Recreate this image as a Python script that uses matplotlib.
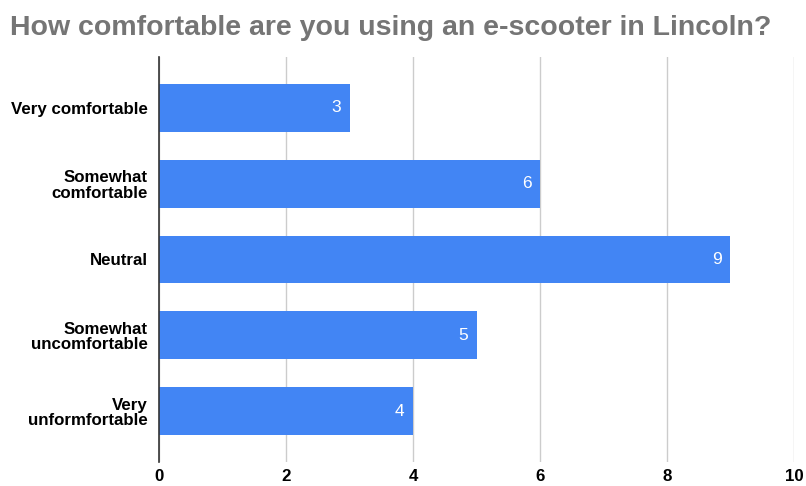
import matplotlib
matplotlib.use("Agg")
import matplotlib.pyplot as plt

categories = ["Very comfortable", "Somewhat\ncomfortable", "Neutral",
              "Somewhat\nuncomfortable", "Very\nunformfortable"]
counts = [3, 6, 9, 5, 4]
xticks = [0, 2, 4, 6, 8, 10]

plt.rcParams['font.family'] = ['Liberation Sans', 'DejaVu Sans']

fig = plt.figure(figsize=(8.06, 4.86), dpi=100)
ax = fig.add_axes([0.1973, 0.0494, 0.7878, 0.8333])

ypos = list(range(len(categories)))
bars = ax.barh(ypos, counts, height=0.63, color="#4285F4", zorder=3)
ax.set_ylim(len(categories) - 1 + 0.67, -0.67)
ax.set_xlim(0, 10)
ax.set_xticks(xticks)
ax.set_yticks(ypos)
ax.set_yticklabels(categories, fontweight="bold", fontsize=12.2, linespacing=1.05)
ax.tick_params(axis="x", labelsize=12.2, length=0, pad=5)
ax.tick_params(axis="y", length=0, pad=8)
for lbl in ax.get_xticklabels():
    lbl.set_fontweight("bold")

ax.grid(axis="x", color="#cccccc", linewidth=1, zorder=0)
for side in ["top", "right", "bottom"]:
    ax.spines[side].set_visible(False)
ax.spines["left"].set_color("#333333")
ax.spines["left"].set_linewidth(1.2)
ax.spines["left"].set_zorder(4)

ax.bar_label(bars, labels=[str(c) for c in counts], padding=-13,
             color="white", fontsize=12.5)

fig.text(0.012, 0.928, "How comfortable are you using an e-scooter in Lincoln?",
         fontsize=20.5, fontweight="bold", color="#757575", ha="left", va="baseline")

fig.savefig("out.png", dpi=100)
